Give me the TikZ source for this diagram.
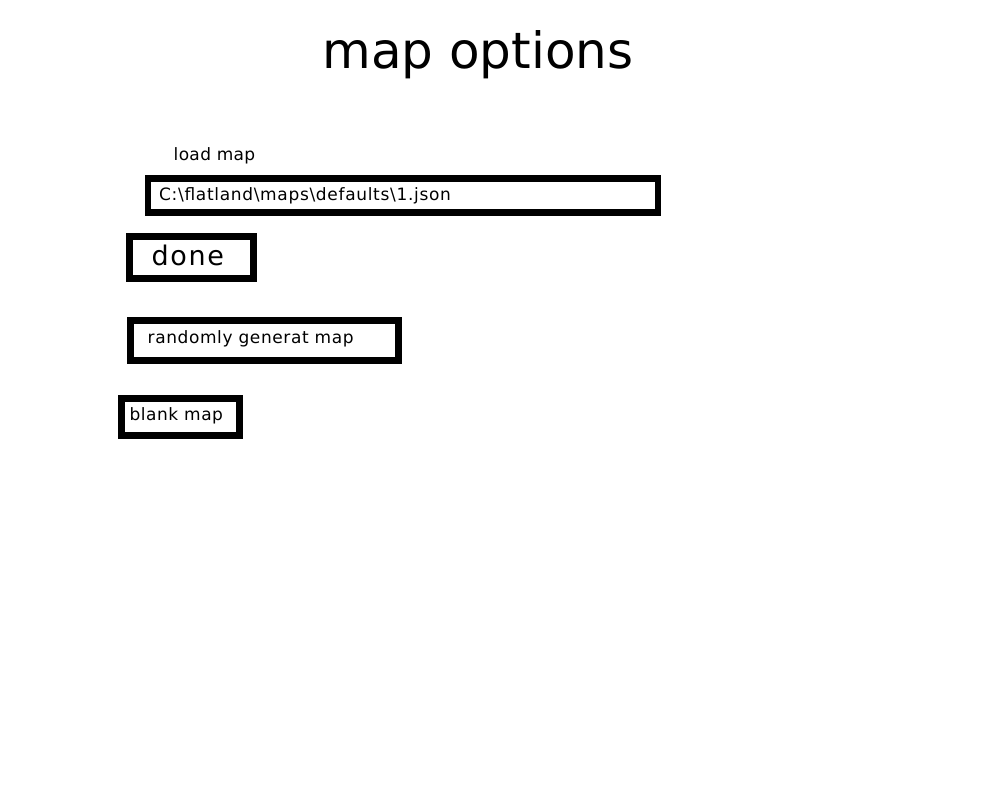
\documentclass[tikz,border=0pt]{standalone}
\usepackage{fontspec}
\setmainfont{DejaVu Sans}
\begin{document}
\begin{tikzpicture}[x=1pt,y=-1pt,
  box/.style={draw=black, line width=6.9pt, inner sep=0pt, fill=white},
  lbl/.style={anchor=base west, inner sep=0pt}]
\useasboundingbox[fill=white] (0,0) rectangle (1000,800);
\node[anchor=base, inner sep=0pt, font=\fontsize{50}{60}\selectfont] (title) at (478,68) {map options};
\node[lbl, font=\fontsize{17}{20}\selectfont\addfontfeature{LetterSpace=2}] (loadlbl) at (173.5,160.5) {load map};
\node[box, minimum width=510pt, minimum height=33.7pt] (pathbox) at (403,195.2) {};
\node[lbl, font=\fontsize{17}{20}\selectfont\addfontfeature{LetterSpace=4}] (pathtxt) at (159,200) {C:\textbackslash flatland\textbackslash maps\textbackslash defaults\textbackslash 1.json};
\node[box, minimum width=124pt, minimum height=41.6pt] (donebox) at (191.3,257.5) {};
\node[lbl, font=\fontsize{27}{32}\selectfont\addfontfeature{LetterSpace=6}] (donetxt) at (151.5,265) {done};
\node[box, minimum width=267.6pt, minimum height=40pt] (randbox) at (264.5,340.7) {};
\node[lbl, font=\fontsize{17}{20}\selectfont\addfontfeature{LetterSpace=3.5}] (randtxt) at (147.5,343.5) {randomly generat map};
\node[box, minimum width=117.6pt, minimum height=36.9pt] (blankbox) at (180.5,416.7) {};
\node[lbl, font=\fontsize{17}{20}\selectfont\addfontfeature{LetterSpace=3}] (blanktxt) at (129.5,420) {blank map};
\end{tikzpicture}
\end{document}
